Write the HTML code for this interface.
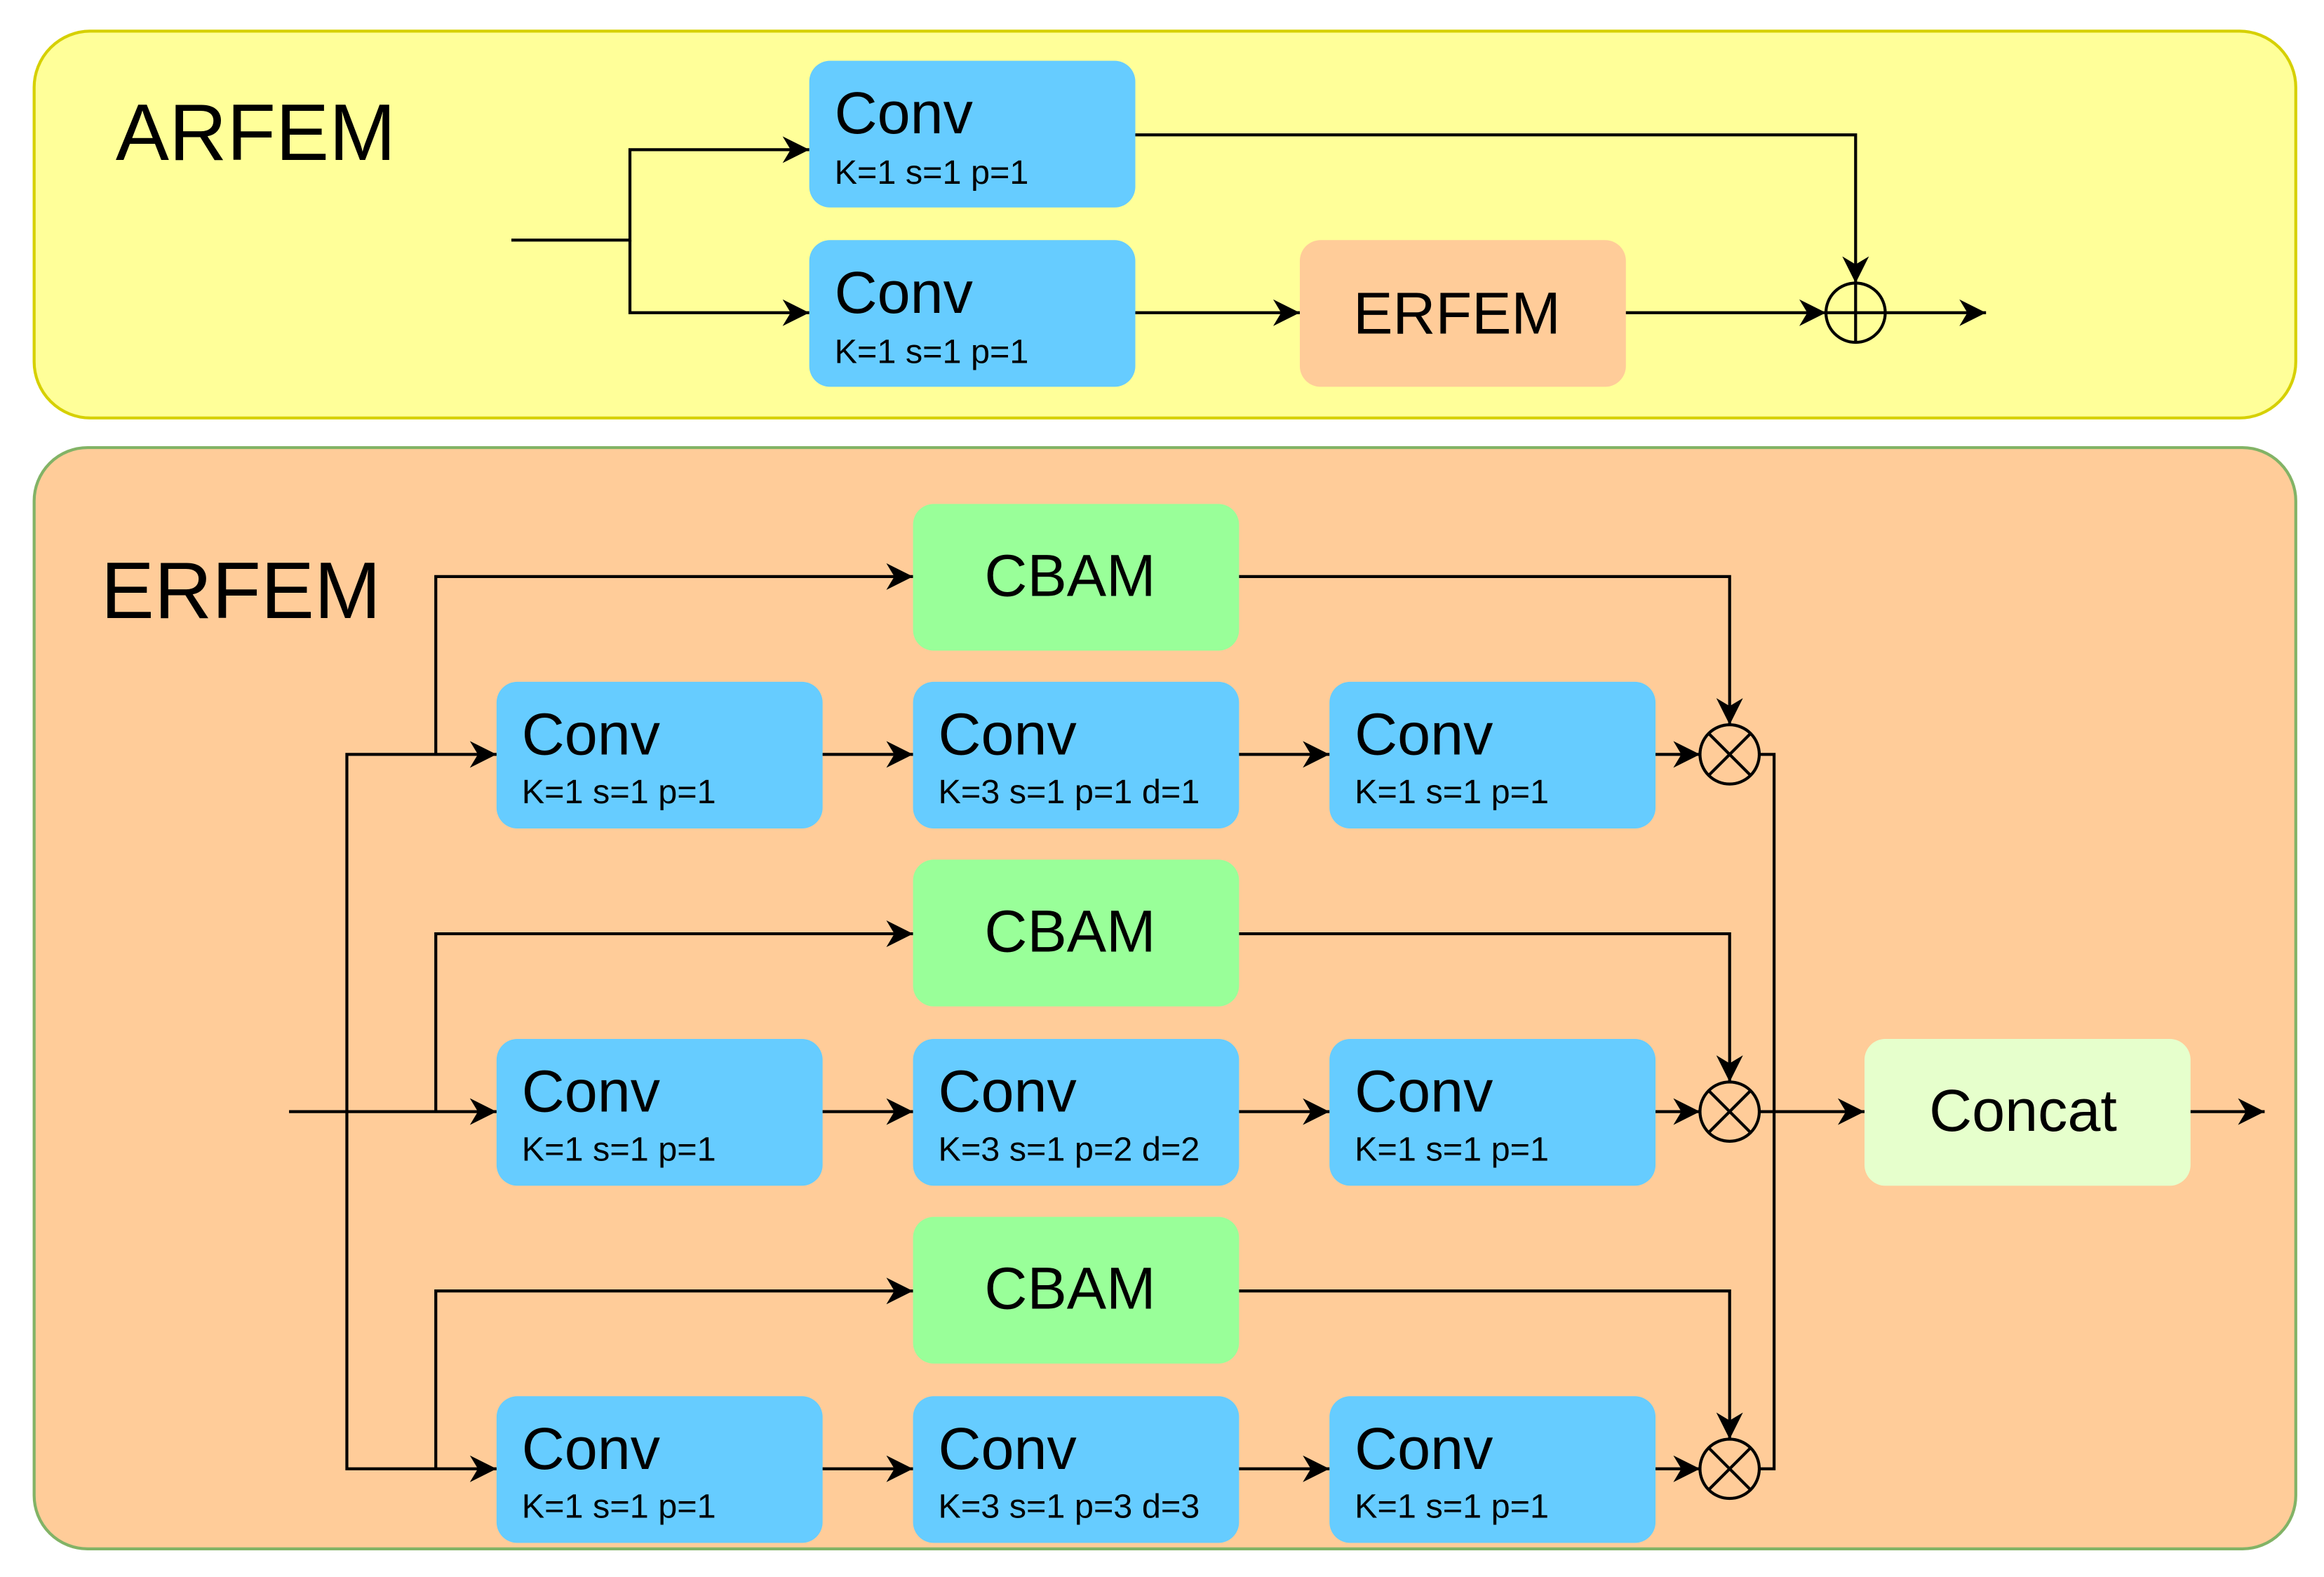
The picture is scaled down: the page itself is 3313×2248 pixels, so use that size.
<!DOCTYPE html>
<html><head><meta charset="utf-8"><style>html,body{margin:0;padding:0;background:#fff}svg{display:block}</style></head>
<body>
<svg width="3313" height="2248" viewBox="0 0 1568 1064" xmlns="http://www.w3.org/2000/svg" font-family="Liberation Sans, sans-serif">
<defs>
<marker id="b" viewBox="0 0 10 10" refX="10" refY="5" markerWidth="18" markerHeight="18" markerUnits="userSpaceOnUse" orient="auto">
<path d="M0,0 L10,5 L0,10 L3,5 z" fill="#000"/></marker>
</defs>
<rect x="23" y="21" width="1526" height="261" rx="38" fill="#ffff99" stroke="#d6d000" stroke-width="2"/>
<rect x="23" y="302" width="1526" height="743" rx="36" fill="#ffcc99" stroke="#82b366" stroke-width="2"/>
<text x="78" y="108" font-size="54">ARFEM</text>
<text x="68" y="417" font-size="54">ERFEM</text>
<g fill="#66ccff">
<rect x="546" y="41" width="220" height="99" rx="14"/>
<rect x="546" y="162" width="220" height="99" rx="14"/>
<rect x="335" y="460" width="220" height="99" rx="14"/><rect x="616" y="460" width="220" height="99" rx="14"/><rect x="897" y="460" width="220" height="99" rx="14"/>
<rect x="335" y="701" width="220" height="99" rx="14"/><rect x="616" y="701" width="220" height="99" rx="14"/><rect x="897" y="701" width="220" height="99" rx="14"/>
<rect x="335" y="942" width="220" height="99" rx="14"/><rect x="616" y="942" width="220" height="99" rx="14"/><rect x="897" y="942" width="220" height="99" rx="14"/>
</g>
<rect x="877" y="162" width="220" height="99" rx="14" fill="#ffcc99"/>
<g fill="#99ff99">
<rect x="616" y="340" width="220" height="99" rx="14"/>
<rect x="616" y="580" width="220" height="99" rx="14"/>
<rect x="616" y="821" width="220" height="99" rx="14"/>
</g>
<rect x="1258" y="701" width="220" height="99" rx="14" fill="#e6ffcc"/>
<g font-size="40">
<text x="563" y="90">Conv</text><text x="563" y="211">Conv</text>
<text x="352" y="509">Conv</text><text x="633" y="509">Conv</text><text x="914" y="509">Conv</text>
<text x="352" y="750">Conv</text><text x="633" y="750">Conv</text><text x="914" y="750">Conv</text>
<text x="352" y="991">Conv</text><text x="633" y="991">Conv</text><text x="914" y="991">Conv</text>
<text x="983" y="225" text-anchor="middle">ERFEM</text>
<text x="722" y="402" text-anchor="middle">CBAM</text>
<text x="722" y="642" text-anchor="middle">CBAM</text>
<text x="722" y="883" text-anchor="middle">CBAM</text>
<text x="1365" y="763" text-anchor="middle">Concat</text>
</g>
<g font-size="23">
<text x="563" y="124">K=1 s=1 p=1</text><text x="563" y="245">K=1 s=1 p=1</text>
<text x="352" y="542">K=1 s=1 p=1</text><text x="633" y="542">K=3 s=1 p=1 d=1</text><text x="914" y="542">K=1 s=1 p=1</text>
<text x="352" y="783">K=1 s=1 p=1</text><text x="633" y="783">K=3 s=1 p=2 d=2</text><text x="914" y="783">K=1 s=1 p=1</text>
<text x="352" y="1024">K=1 s=1 p=1</text><text x="633" y="1024">K=3 s=1 p=3 d=3</text><text x="914" y="1024">K=1 s=1 p=1</text>
</g>
<g fill="none" stroke="#000" stroke-width="2">
<path d="M345,162 H425 V101 H546" marker-end="url(#b)"/>
<path d="M425,162 V211 H546" marker-end="url(#b)"/>
<path d="M766,91 H1252 V191" marker-end="url(#b)"/>
<path d="M766,211 H877" marker-end="url(#b)"/>
<path d="M1097,211 H1232" marker-end="url(#b)"/>
<path d="M1272,211 H1340" marker-end="url(#b)"/>
<circle cx="1252" cy="211" r="20"/><path d="M1232,211 H1272 M1252,191 V231"/>

<path d="M195,750 H335" marker-end="url(#b)"/>
<path d="M234,750 V509 H335" marker-end="url(#b)"/>
<path d="M234,750 V991 H335" marker-end="url(#b)"/>
<path d="M294,509 V389 H616" marker-end="url(#b)"/>
<path d="M294,750 V630 H616" marker-end="url(#b)"/>
<path d="M294,991 V871 H616" marker-end="url(#b)"/>
<path d="M555,509 H616" marker-end="url(#b)"/><path d="M836,509 H897" marker-end="url(#b)"/>
<path d="M555,750 H616" marker-end="url(#b)"/><path d="M836,750 H897" marker-end="url(#b)"/>
<path d="M555,991 H616" marker-end="url(#b)"/><path d="M836,991 H897" marker-end="url(#b)"/>
<path d="M1117,509 H1147" marker-end="url(#b)"/><path d="M1117,750 H1147" marker-end="url(#b)"/><path d="M1117,991 H1147" marker-end="url(#b)"/>
<path d="M836,389 H1167 V489" marker-end="url(#b)"/>
<path d="M836,630 H1167 V730" marker-end="url(#b)"/>
<path d="M836,871 H1167 V971" marker-end="url(#b)"/>
<circle cx="1167" cy="509" r="20"/><circle cx="1167" cy="750" r="20"/><circle cx="1167" cy="991" r="20"/>
<path d="M1153,495 L1181,523 M1181,495 L1153,523 M1153,736 L1181,764 M1181,736 L1153,764 M1153,977 L1181,1005 M1181,977 L1153,1005"/>
<path d="M1187,509 H1197 V991 H1187"/>
<path d="M1187,750 H1258" marker-end="url(#b)"/>
<path d="M1478,750 H1528" marker-end="url(#b)"/>
</g>
</svg>
</body></html>
